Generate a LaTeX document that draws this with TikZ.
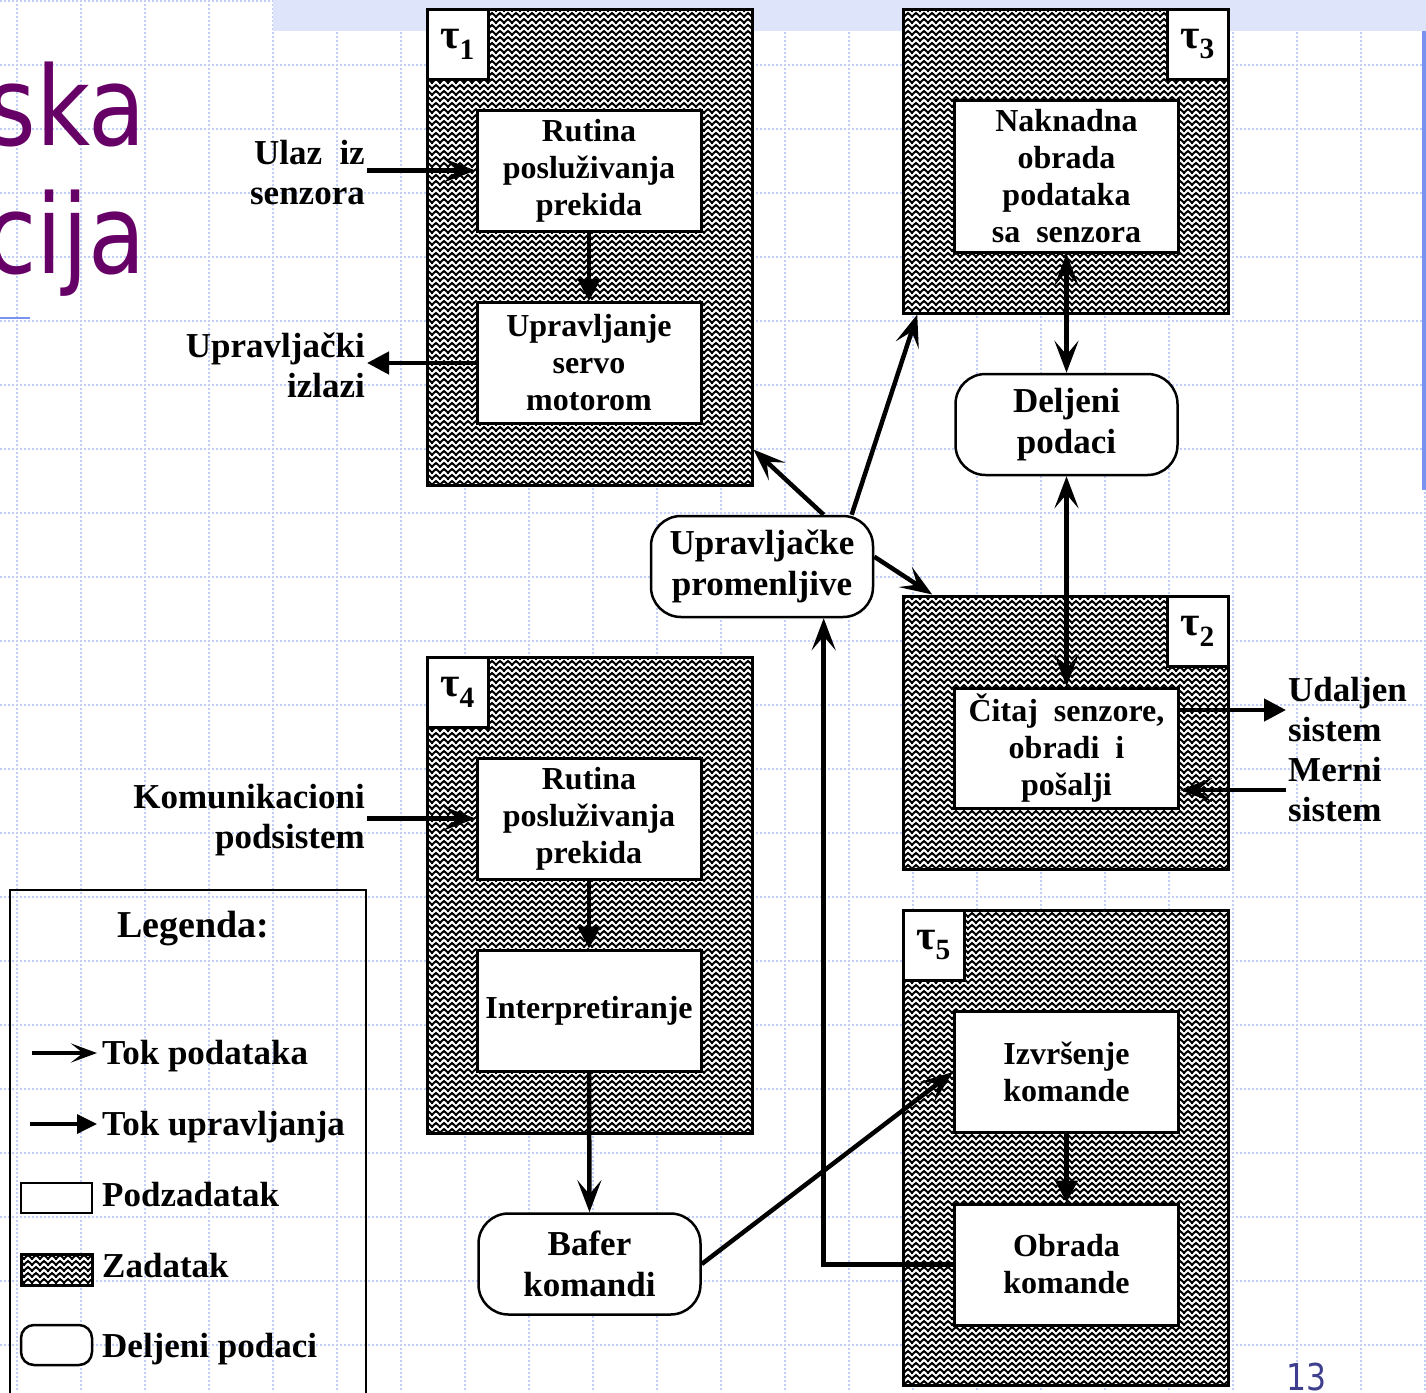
\documentclass[tikz,border=0pt]{standalone}
\usepackage{fontspec}
\setmainfont{Liberation Serif}
\newfontfamily\slidefont[FakeStretch=0.85]{DejaVu Sans}
\usetikzlibrary{arrows.meta,patterns}

\definecolor{gridblue}{RGB}{192,205,246}
\definecolor{bandblue}{RGB}{222,229,251}
\definecolor{slidepurple}{RGB}{102,0,102}
\definecolor{ruleblue}{RGB}{122,146,240}
\definecolor{pagenum}{RGB}{62,62,142}

% zigzag hatching of a task
\pgfdeclarepatternformonly{zigzag}{\pgfqpoint{-1pt}{-1pt}}{\pgfqpoint{9pt}{7pt}}{\pgfqpoint{8pt}{6pt}}{
  \pgfsetlinewidth{2pt}
  \pgfpathmoveto{\pgfqpoint{-1pt}{0.5pt}}
  \pgfpathlineto{\pgfqpoint{4pt}{5pt}}
  \pgfpathlineto{\pgfqpoint{9pt}{0.5pt}}
  \pgfusepath{stroke}
}

\tikzset{
  barb/.tip={Stealth[length=32pt,width=24pt,inset=14pt]},
  head/.tip={Triangle[length=22pt,width=22pt]},
  data/.style={line width=4.5pt, -barb},
  both/.style={line width=4.5pt, barb-barb},
  ctrl/.style={line width=4.5pt, -head},
  sub/.style={draw, fill=white, line width=3pt, minimum width=224pt, minimum height=121pt,
    align=center, inner sep=0pt, font=\fontsize{32}{37}\selectfont\bfseries},
  task/.style={draw, line width=3pt, preaction={fill=white}, pattern=zigzag,
    minimum width=325pt, inner sep=0pt},
  tau/.style={draw, fill=white, line width=3pt, minimum width=61pt, minimum height=70pt,
    inner sep=0pt, font=\fontsize{42}{46}\selectfont\bfseries},
  shared/.style={draw, fill=white, line width=2.5pt, rounded corners=30pt, minimum width=222pt,
    minimum height=101pt, align=center, inner sep=0pt, font=\fontsize{35}{41}\selectfont\bfseries},
  lbl/.style={inner sep=2pt, font=\fontsize{35}{40}\selectfont\bfseries},
  legtxt/.style={anchor=base west, inner sep=5pt, font=\fontsize{35}{40}\selectfont\bfseries},
  gridline/.style={gridblue, line width=1.5pt, dash pattern=on 2pt off 2pt},
}

\begin{document}
\begin{tikzpicture}[x=1pt,y=-1pt]
  \useasboundingbox (0,0) rectangle (1426,1392);
  \clip (0,0) rectangle (1426,1392);

  % slide background
  \foreach \gx in {0,...,22}
    \draw[gridline] (17+64*\gx,0) -- (17+64*\gx,1392);
  \foreach \gy in {0,...,21}
    \draw[gridline] (0,1+64*\gy) -- (1426,1+64*\gy);
  \fill[bandblue] (273,0) rectangle (1426,31);
  \fill[ruleblue] (1422,31) rectangle (1426,490);
  \draw[ruleblue, line width=2pt] (0,318) -- (30,318);

  \node[anchor=base east, inner sep=0pt, slidepurple, font=\slidefont\fontsize{110}{120}\selectfont] (ska) at (146,145) {ska};
  \node[anchor=base east, inner sep=0pt, slidepurple, font=\slidefont\fontsize{110}{120}\selectfont] (cija) at (146,273) {cija};
  \node[anchor=base, inner sep=0pt, pagenum, font=\slidefont\fontsize{37}{40}\selectfont] (pg) at (1306,1390) {13};

  % tasks
  \node[task, minimum height=476pt] (t1) at (589.5,247) {};
  \node[task, minimum height=304pt] (t3) at (1065.5,161) {};
  \node[task, minimum height=273pt] (t2) at (1065.5,732.5) {};
  \node[task, minimum height=476pt] (t4) at (589.5,895) {};
  \node[task, minimum height=475pt] (t5) at (1065.5,1147.5) {};

  \node[tau, anchor=north west] (l1) at (t1.north west) {τ\textsubscript{1}};
  \node[tau, anchor=north east] (l3) at (t3.north east) {τ\textsubscript{3}};
  \node[tau, anchor=north east] (l2) at (t2.north east) {τ\textsubscript{2}};
  \node[tau, anchor=north west] (l4) at (t4.north west) {τ\textsubscript{4}};
  \node[tau, anchor=north west] (l5) at (t5.north west) {τ\textsubscript{5}};

  % subtasks
  \node[sub] (rut1) at (589,170.5) {Rutina\\posluživanja\\prekida};
  \node[sub] (upr1) at (589,363) {Upravljanje\\servo\\motorom};
  \node[sub, minimum height=152pt] (nak) at (1066.5,176) {Naknadna\\obrada\\podataka\\sa\ \ senzora};
  \node[sub, minimum height=120pt] (cit) at (1066.5,748) {Čitaj\ \ senzore,\\obradi\ \ i\\pošalji};
  \node[sub] (rut4) at (589,818.5) {Rutina\\posluživanja\\prekida};
  \node[sub] (int4) at (589,1010.5) {Interpretiranje};
  \node[sub] (izv) at (1066.5,1072) {Izvršenje\\komande};
  \node[sub] (obr) at (1066.5,1264.5) {Obrada\\komande};

  % shared data
  \node[shared] (dlj) at (1066.5,424.5) {Deljeni\\podaci};
  \node[shared] (uprom) at (762,566.5) {Upravljačke\\promenljive};
  \node[shared] (bafer) at (589.5,1264) {Bafer\\komandi};

  % outside
  \node[lbl, anchor=east, align=right] (ulaz) at (367,173) {Ulaz\ \ iz\\senzora};
  \node[lbl, anchor=east, align=right] (izlazi) at (367,365) {Upravljački\\izlazi};
  \node[lbl, anchor=east, align=right] (kom) at (367,820) {Komunikacioni\\podsistem};
  \node[lbl, anchor=west, align=left] (udaljen) at (1286,710) {Udaljen\\sistem};
  \node[lbl, anchor=west, align=left] (merni) at (1286,790) {Merni\\sistem};

  % flows
  \draw[data] (ulaz.east |- rut1.west) -- (rut1.west);
  \draw[ctrl] (rut1.south) -- (upr1.north);
  \draw[ctrl] (upr1.west) -- (izlazi.east |- upr1.west);
  \draw[data] (uprom.40) -- (t1.-51);
  \draw[data] (uprom.30) -- (t3.226);
  \draw[data] (uprom.5) -- (t2.134);
  \draw[both] (nak.south) -- (dlj.north);
  \draw[both] (dlj.south) -- (cit.north);
  \draw[ctrl] (cit.east |- udaljen.west) -- (udaljen.west);
  \draw[data] (merni.west) -- (merni.west -| cit.east);
  \draw[data] (kom.east |- rut4.west) -- (rut4.west);
  \draw[ctrl] (rut4.south) -- (int4.north);
  \draw[data] (int4.south) -- (bafer.north);
  \draw[data] (bafer.east) -- (izv.west);
  \draw[ctrl] (izv.south) -- (obr.north);
  \draw[data] (obr.west) -| (uprom.-40);

  % legend
  \draw[line width=2pt] (10,1400) |- (366,890) -- (366,1400);
  \node[anchor=base, inner sep=0pt, font=\fontsize{38}{42}\selectfont\bfseries] (leg) at (193,937) {Legenda:};
  \coordinate (lgd) at (32,1053);
  \coordinate (lgc) at (30,1124);
  \node[legtxt] (lgdata) at (97,1064) {Tok podataka};
  \node[legtxt] (lgctrl) at (97,1135) {Tok upravljanja};
  \draw[line width=3.5pt, -{Stealth[length=26pt,width=19pt,inset=12pt]}] (lgd) -- (lgd -| lgdata.west);
  \draw[line width=3.5pt, -{Triangle[length=20pt,width=19pt]}] (lgc) -- (lgc -| lgctrl.west);
  \node[sub, minimum width=71pt, minimum height=30pt, line width=2.5pt] (lgsub) at (56.5,1198) {};
  \node[task, minimum width=71pt, minimum height=31pt, line width=3pt] (lgtask) at (56.5,1269.5) {};
  \node[shared, minimum width=71pt, minimum height=40pt, rounded corners=13pt, line width=2.5pt] (lgshr) at (56.5,1345) {};
  \node[legtxt] (lgsubt) at (97,1206) {Podzadatak};
  \node[legtxt] (lgtaskt) at (97,1277) {Zadatak};
  \node[legtxt] (lgshrt) at (97,1357) {Deljeni podaci};
\end{tikzpicture}
\end{document}
